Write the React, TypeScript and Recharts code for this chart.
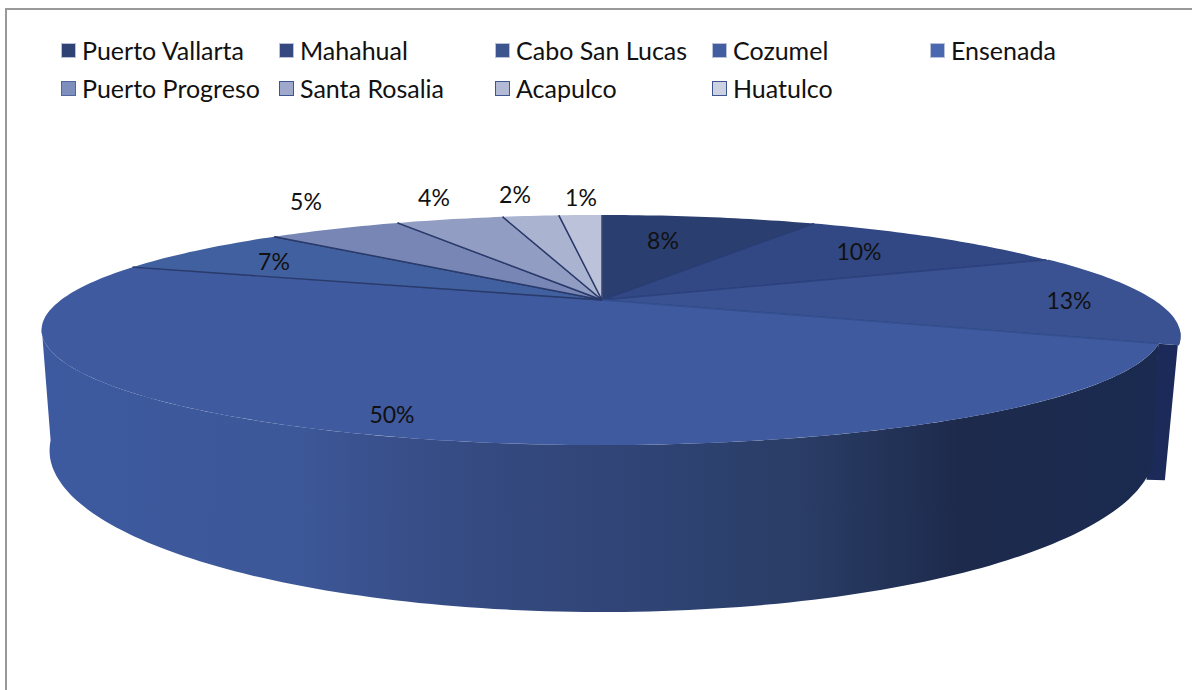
import { Legend, Pie, PieChart } from "recharts";

const ports = ["Puerto Vallarta", "Mahahual", "Cabo San Lucas", "Cozumel", "Ensenada", "Puerto Progreso", "Santa Rosalia", "Acapulco", "Huatulco"];
const shares = [8, 10.2, 12.8, 49.4, 6.9, 5, 4, 2.1, 1.6];
const shownPercents = ["8%", "10%", "13%", "50%", "7%", "5%", "4%", "2%", "1%"];
const topColors = ["#2b3e70", "#324884", "#3a5291", "#3f5a9e", "#41609f", "#7786b5", "#929dc3", "#aab3d0", "#bcc2d9"];
const edgeColors = ["#2a3d75", "#2a3d75", "#2c427f", "#34508f", "#2a3a6a", "#2a3a6a", "#2a3a6a", "#2a3a6a", "#2a3a6a"];
const swatchColors = ["#2f4274", "#35487f", "#3c558f", "#425da0", "#4a68b0", "#7f8fbd", "#9ea9cb", "#b2bad6", "#cdd2e3"];
const swatchBorders = ["#b9c2d8", "#b9c2d8", "#b9c2d8", "#b9c2d8", "#b9c2d8", "#4f66a0", "#3f5590", "#3f5590", "#3f5590"];

// where each percent text sits on the page
const labelSpots = [[663, 240], [859, 251], [1069, 300], [392, 414], [274, 261], [306, 201], [434, 197], [515, 194], [581, 197]];

const table = ports.map((name, i) => ({ name, value: shares[i], fill: topColors[i] }));

const FONT = "Lato, 'Open Sans', sans-serif";
const CX = 602;
const TOP = { cx: CX, cy: 300, a: 541, b: 107.2, k: 0.261 };
const BOTTOM = { cx: CX, cy: 402, a: 527, b: 147, k: 0.3 };
// the Cabo San Lucas slice sticks out a little towards its far edge
const BULGE_FROM = 1.006;
const BULGE_TO = 1.033;

type Model = typeof TOP;

// theta is clockwise from 12 o'clock, r in 0..1, disc seen in perspective
function project(m: Model, theta: number, r = 1) {
  const t = (theta * Math.PI) / 180;
  const u = r * Math.sin(t);
  const v = -r * Math.cos(t);
  const s = 1 / (1 - m.k * v);
  return [m.cx + m.a * u * s, m.cy + m.b * v * s];
}

function arc(m: Model, from: number, to: number, shift = [0, 0], r = (_t: number) => 1) {
  const n = Math.max(2, Math.ceil(Math.abs(to - from)));
  const pts: string[] = [];
  for (let i = 0; i <= n; i++) {
    const th = from + ((to - from) * i) / n;
    const [x, y] = project(m, th, r(th));
    pts.push(`${(x + shift[0]).toFixed(1)} ${(y + shift[1]).toFixed(1)}`);
  }
  return pts;
}

function bulge(from: number, to: number) {
  return (th: number) => BULGE_FROM + ((BULGE_TO - BULGE_FROM) * (th - from)) / (to - from);
}

function TopSlice(props: any) {
  const from = 90 - props.startAngle;
  const to = 90 - props.endAngle;
  const idx = ports.indexOf(props.name);
  const isCabo = props.name === "Cabo San Lucas";
  const rim = isCabo ? arc(TOP, from, to, [0, 0], bulge(from, to)) : arc(TOP, from, to);
  const d = `M${CX} ${TOP.cy} L${rim.join(" L")} Z`;
  const [x0, y0] = project(TOP, from);
  const [x1, y1] = project(TOP, to);
  const first = from < 0.01;
  return (
    <g>
      <path d={d} fill={props.fill} stroke="none" />
      <path
        d={`M${x0} ${y0} L${CX} ${TOP.cy} L${x1} ${y1}`}
        fill="none"
        stroke={edgeColors[idx]}
        strokeWidth={1.4}
      />
      {first && <path d={`M${CX - 1} ${y0 - 1} L${CX - 1} ${TOP.cy}`} stroke="#fff" strokeWidth={2.5} />}
    </g>
  );
}

function WallSlice(props: any) {
  const from = 90 - props.startAngle;
  const to = 90 - props.endAngle;
  if (props.name === "Cozumel") {
    const end = Math.min(to, 256);
    const upper = arc(TOP, from, end);
    const lower = arc(BOTTOM, end, from);
    return <path d={`M${upper.join(" L")} L${lower.join(" L")} Z`} fill="url(#wallShade)" />;
  }
  if (props.name === "Cabo San Lucas") {
    const r = bulge(from, to);
    const upper = arc(TOP, 104, to, [0, 0], r);
    const [ox, oy] = project(TOP, to, r(to));
    const [ix, iy] = project(TOP, to);
    const d = `M${upper.join(" L")} L${ix} ${iy} L${ix - 12} ${iy + 136} L${ox - 14} ${oy + 135} Z`;
    return <path d={d} fill="#1c2a5a" />;
  }
  return <g />;
}

function percentLabel(props: any) {
  const i = props.index;
  return (
    <text
      x={labelSpots[i][0]}
      y={labelSpots[i][1]}
      textAnchor="middle"
      dominantBaseline="central"
      fontFamily={FONT}
      fontSize={23}
      fill="#111"
    >
      {shownPercents[i]}
    </text>
  );
}

function LegendGrid({ payload }: any) {
  const items = (payload || []).filter((p: any) => p.type !== "none");
  return (
    <div
      style={{
        display: "grid",
        gridTemplateColumns: "218px 216px 217px 218px 200px",
        gridAutoRows: "38px",
        fontFamily: FONT,
        fontSize: 25,
        color: "#111",
        paddingLeft: 61,
        paddingTop: 31,
      }}
    >
      {items.map((p: any, i: number) => (
        <div key={p.value} style={{ display: "flex", alignItems: "center", gap: 6 }}>
          <span
            style={{
              width: 13,
              height: 13,
              background: swatchColors[i],
              border: `1.5px solid ${swatchBorders[i]}`,
              flex: "none",
            }}
          />
          <span>{p.value}</span>
        </div>
      ))}
    </div>
  );
}

export default function App() {
  return (
    <div style={{ position: "absolute", left: 0, top: 0, width: 1192, height: 690, background: "#fff", overflow: "hidden" }}>
      <div
        style={{
          position: "absolute",
          left: 5,
          top: 8,
          width: 1187,
          height: 682,
          borderLeft: "2px solid #999",
          borderTop: "2px solid #999",
        }}
      />
      <PieChart width={1192} height={690} style={{ position: "absolute", left: 0, top: 0 }}>
        <defs>
          <linearGradient id="wallShade" gradientUnits="userSpaceOnUse" x1="41" y1="0" x2="1160" y2="0">
            <stop offset="0%" stopColor="#3d5aa0" />
            <stop offset="23%" stopColor="#3d5898" />
            <stop offset="32%" stopColor="#384f8a" />
            <stop offset="41%" stopColor="#34497f" />
            <stop offset="53%" stopColor="#304476" />
            <stop offset="68%" stopColor="#2a3d66" />
            <stop offset="82%" stopColor="#1d2a4c" />
            <stop offset="100%" stopColor="#1a2a50" />
          </linearGradient>
        </defs>
        <Legend
          verticalAlign="top"
          itemSorter={null}
          wrapperStyle={{ left: 0, top: 0, width: 1192 }}
          content={<LegendGrid />}
        />
        <Pie
          data={table}
          dataKey="value"
          nameKey="name"
          cx={CX}
          cy={TOP.cy}
          outerRadius={200}
          startAngle={90}
          endAngle={-270}
          legendType="none"
          isAnimationActive={false}
          shape={WallSlice}
        />
        <Pie
          data={table}
          dataKey="value"
          nameKey="name"
          cx={CX}
          cy={TOP.cy}
          outerRadius={200}
          startAngle={90}
          endAngle={-270}
          isAnimationActive={false}
          shape={TopSlice}
          label={percentLabel}
          labelLine={false}
        />
      </PieChart>
    </div>
  );
}
